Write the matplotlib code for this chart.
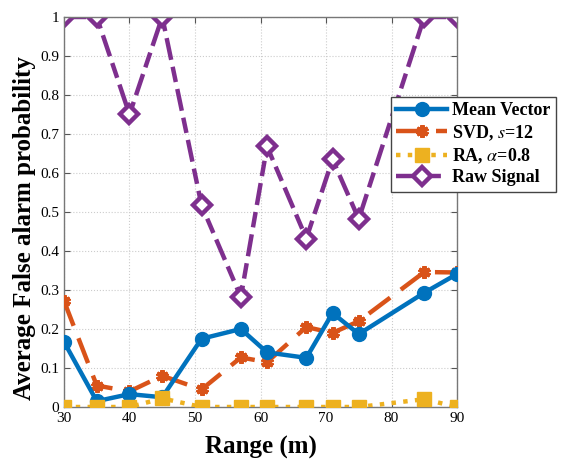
import numpy as np
import matplotlib
matplotlib.use('Agg')
import matplotlib.pyplot as plt

plt.rcParams['font.family'] = ['Liberation Serif', 'DejaVu Serif']
plt.rcParams['mathtext.fontset'] = 'stix'

rng = [30, 35, 40, 45, 51, 57, 61, 67, 71, 75, 85, 90]
mean_vec = [0.167, 0.015, 0.033, 0.025, 0.175, 0.200, 0.140, 0.126, 0.241, 0.187, 0.293, 0.341]
svd = [0.272, 0.055, 0.040, 0.080, 0.045, 0.127, 0.115, 0.205, 0.190, 0.220, 0.346, 0.345]
ra = [0.0, 0.0, 0.0, 0.022, 0.0, 0.0, 0.0, 0.0, 0.0, 0.0, 0.020, 0.0]
raw = [1.0, 1.0, 0.75, 1.0, 0.517, 0.282, 0.668, 0.432, 0.635, 0.482, 1.0, 1.0]

fig = plt.figure(figsize=(5.61, 4.61), dpi=100)
ax = fig.add_axes([64/561, 1 - 407/461, (457-64)/561, (407-17)/461])

lw = 3.2
ax.plot(rng, mean_vec, '-', color='#0072BD', lw=lw, marker='o', ms=10,
        label='Mean Vector', zorder=4)
ax.plot(rng, svd, '--', color='#D95319', lw=lw, marker=(6, 2, 0), ms=9,
        mew=3, dashes=(6, 3), label='SVD, $s$=12', zorder=3)
ax.plot(rng, ra, ':', color='#EDB120', lw=lw, marker='s', ms=10,
        label=r'RA, $\alpha$=0.8', zorder=5)
ax.plot(rng, raw, color='#7E2F8E', lw=lw, marker='D', ms=9, mfc='white',
        mew=3.2, dashes=(5, 1.6, 3.5, 1.6), label='Raw Signal', zorder=2)

ax.set_xlim(30, 90)
ax.set_ylim(0, 1)
ax.set_xticks(np.arange(30, 91, 10))
ax.set_yticks(np.arange(0, 1.01, 0.1))
ax.set_yticklabels(['0', '0.1', '0.2', '0.3', '0.4', '0.5', '0.6', '0.7', '0.8', '0.9', '1'])
ax.tick_params(direction='in', labelsize=11, top=True, right=True, length=4,
               color='#555555')
ax.grid(True, color='#cccccc', linestyle=':', linewidth=0.8)
for s in ax.spines.values():
    s.set_color('#777777')
    s.set_linewidth(1.0)

ax.set_xlabel('Range (m)', fontsize=18, fontweight='bold', labelpad=8)
ax.set_ylabel('Average False alarm probability', fontsize=18, fontweight='bold')
ax.yaxis.set_label_coords(-0.072, 0.459)

leg = ax.legend(loc='upper left', bbox_to_anchor=(391/561, 1 - 97/461),
                bbox_transform=fig.transFigure, fancybox=False, framealpha=1,
                edgecolor='#444444', prop={'weight': 'bold', 'size': 13},
                handlelength=2.8, borderpad=0.3, labelspacing=0.2,
                handletextpad=0.3, borderaxespad=0)
leg.get_frame().set_linewidth(1.0)
leg.set_zorder(10)

fig.savefig('out.png', dpi=100)
